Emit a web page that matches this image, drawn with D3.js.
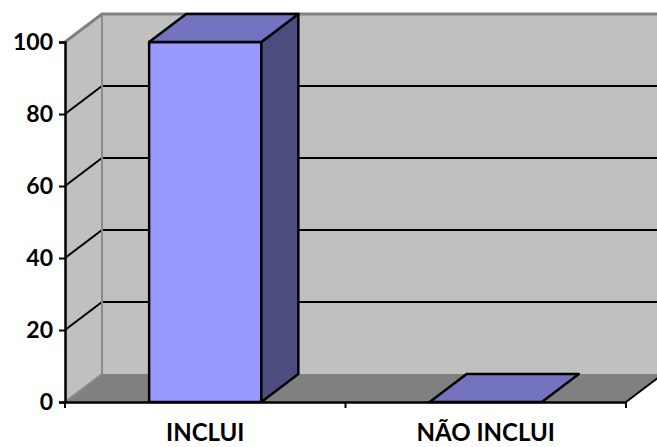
<!DOCTYPE html>
<html>
<head>
<meta charset="utf-8">
<script src="https://cdn.jsdelivr.net/npm/d3@7"></script>
<style>
  html, body { margin: 0; padding: 0; background: #fff; }
  svg { display: block; font-family: Lato, "Open Sans", sans-serif; }
</style>
</head>
<body>
<svg id="chart" width="657" height="447"></svg>
<script>
"use strict";

const categories = ["INCLUI", "NÃO INCLUI"];
const values = [100, 0];
const yTicks = [0, 20, 40, 60, 80, 100];

const plotLeft = 65, plotRight = 626, plotBottom = 402, plotTop = 42;
const dx = 37, dy = -28; // depth of the 3d box

const svg = d3.select("#chart");

const x = d3.scaleBand().domain(categories).range([plotLeft, plotRight]);
const y = d3.scaleLinear().domain([0, 100]).range([plotBottom, plotTop]);

const barW = x.bandwidth() * 0.4;

// Side wall (left)
svg.append("path")
  .attr("d", `M${plotLeft},${y(0)} L${plotLeft + dx},${y(0) + dy} L${plotLeft + dx},${y(100) + dy} L${plotLeft},${y(100)} Z`)
  .attr("fill", "#c0c0c0");

// Back wall
svg.append("rect")
  .attr("x", plotLeft + dx)
  .attr("y", y(100) + dy)
  .attr("width", plotRight - plotLeft)
  .attr("height", y(0) - y(100))
  .attr("fill", "#c0c0c0");

// Gridlines (side + back)
let grid = svg.append("g");
yTicks.filter(v => v > 0 && v < 100).forEach(function(v) {
  grid.append("path")
    .attr("d", `M${plotLeft},${y(v)} L${plotLeft + dx},${y(v) + dy} L${plotRight + dx},${y(v) + dy}`)
    .attr("fill", "none")
    .attr("stroke", "#000")
    .attr("stroke-width", 2);
});

// Floor
svg.append("path")
  .attr("d", `M${plotLeft},${y(0)} L${plotLeft + dx},${y(0) + dy} L${plotRight + dx},${y(0) + dy} L${plotRight},${y(0)} Z`)
  .attr("fill", "#808080");

// Wall edges in gray
svg.append("path")
  .attr("d", `M${plotLeft},${y(0)} L${plotLeft + dx},${y(0) + dy} L${plotLeft + dx},${y(100) + dy}`)
  .attr("fill", "none")
  .attr("stroke", "#8a8a8a")
  .attr("stroke-width", 2);
svg.append("path")
  .attr("d", `M${plotLeft},${y(100)} L${plotLeft + dx},${y(100) + dy} L${plotRight + dx},${y(100) + dy}`)
  .attr("fill", "none")
  .attr("stroke", "#808080")
  .attr("stroke-width", 3);

// Floor right edge
svg.append("path")
  .attr("d", `M${plotRight},${y(0)} L${plotRight + dx},${y(0) + dy}`)
  .attr("fill", "none")
  .attr("stroke", "#000")
  .attr("stroke-width", 2);

// Bars
let bars = svg.append("g")
  .attr("stroke", "#000")
  .attr("stroke-width", 2.5)
  .attr("stroke-linejoin", "round");

categories.forEach(function(c, i) {
  let x0 = x(c) + (x.bandwidth() - barW) / 2;
  let x1 = x0 + barW;
  let y0 = y(0), y1 = y(values[i]);
  let bg = bars.append("g");
  if (y0 - y1 > 0) {
    // front
    bg.append("rect")
      .attr("x", x0).attr("y", y1)
      .attr("width", barW).attr("height", y0 - y1)
      .attr("fill", "#9999ff");
    // side
    bg.append("path")
      .attr("d", `M${x1},${y0} L${x1 + dx},${y0 + dy} L${x1 + dx},${y1 + dy} L${x1},${y1} Z`)
      .attr("fill", "#4d4d80");
  }
  // top
  bg.append("path")
    .attr("d", `M${x0},${y1} L${x0 + dx},${y1 + dy} L${x1 + dx},${y1 + dy} L${x1},${y1} Z`)
    .attr("fill", "#7373bf");
});

// Y axis
let yAxis = svg.append("g")
  .attr("transform", `translate(${plotLeft},0)`)
  .call(d3.axisLeft(y).tickValues(yTicks).tickSize(6).tickPadding(6));
yAxis.select(".domain").attr("stroke-width", 2.5);
yAxis.selectAll(".tick line").attr("stroke-width", 2);
yAxis.selectAll("text")
  .attr("font-family", "Lato, 'Open Sans', sans-serif")
  .attr("font-size", "23px")
  .attr("font-weight", "bold")
  .attr("fill", "#000");

// X axis
let xAxis = svg.append("g")
  .attr("transform", `translate(0,${plotBottom})`)
  .call(d3.axisBottom(x).tickSize(0).tickSizeOuter(0));
xAxis.select(".domain").attr("stroke-width", 2.5);
xAxis.selectAll("text")
  .attr("y", 39)
  .attr("dy", 0)
  .attr("font-family", "Lato, 'Open Sans', sans-serif")
  .attr("font-size", "24px")
  .attr("font-weight", "bold")
  .attr("fill", "#000");

// category boundary ticks
let bounds = [plotLeft].concat(categories.map(c => x(c) + x.bandwidth()));
xAxis.selectAll(".bound")
  .data(bounds)
  .enter().append("line")
  .attr("class", "bound")
  .attr("x1", d => d).attr("x2", d => d)
  .attr("y1", 0).attr("y2", 6)
  .attr("stroke", "#000")
  .attr("stroke-width", 2);
</script>
</body>
</html>
